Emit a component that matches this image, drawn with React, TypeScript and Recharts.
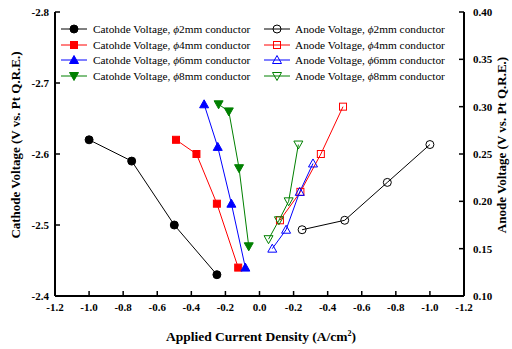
import React from 'react';
import { LineChart, Line, XAxis, YAxis } from 'recharts';

// current density (A/cm2) and voltage
const cathodeDensity2mm = [-1.0, -0.75, -0.5, -0.25];
const cathodeVoltage2mm = [-2.62, -2.59, -2.5, -2.43];
const cathodeDensity4mm = [-0.49, -0.37, -0.25, -0.125];
const cathodeVoltage4mm = [-2.62, -2.6, -2.53, -2.44];
const cathodeDensity6mm = [-0.325, -0.245, -0.165, -0.083];
const cathodeVoltage6mm = [-2.67, -2.61, -2.53, -2.44];
const cathodeDensity8mm = [-0.24, -0.18, -0.12, -0.063];
const cathodeVoltage8mm = [-2.67, -2.66, -2.58, -2.47];

// anode densities as labelled on the right half of the axis
const anodeDensity2mm = [-0.25, -0.5, -0.75, -1.0];
const anodeVoltage2mm = [0.17, 0.18, 0.22, 0.26];
const anodeDensity4mm = [-0.12, -0.24, -0.36, -0.49];
const anodeVoltage4mm = [0.18, 0.21, 0.25, 0.3];
const anodeDensity6mm = [-0.075, -0.156, -0.236, -0.314];
const anodeVoltage6mm = [0.15, 0.17, 0.21, 0.24];
const anodeDensity8mm = [-0.053, -0.114, -0.171, -0.228];
const anodeVoltage8mm = [0.16, 0.18, 0.2, 0.26];

const xTicks = [-1.2, -1.0, -0.8, -0.6, -0.4, -0.2, 0, 0.2, 0.4, 0.6, 0.8, 1.0, 1.2];
const cathodeTicks = [-2.8, -2.7, -2.6, -2.5, -2.4];
const anodeTicks = [0.1, 0.15, 0.2, 0.25, 0.3, 0.35, 0.4];

const conductors = ['2mm', '4mm', '6mm', '8mm'];
const colors = ['#000000', '#ff0000', '#0000ff', '#008000'];
const shapes = ['circle', 'square', 'up', 'down'];

const pairs = (xs: number[], ys: number[], mirror = false) =>
  xs.map((x, i) => ({ x: mirror ? -x : x, y: ys[i] }));

const cathodeSeries = [
  pairs(cathodeDensity2mm, cathodeVoltage2mm),
  pairs(cathodeDensity4mm, cathodeVoltage4mm),
  pairs(cathodeDensity6mm, cathodeVoltage6mm),
  pairs(cathodeDensity8mm, cathodeVoltage8mm),
];
const anodeSeries = [
  pairs(anodeDensity2mm, anodeVoltage2mm, true),
  pairs(anodeDensity4mm, anodeVoltage4mm, true),
  pairs(anodeDensity6mm, anodeVoltage6mm, true),
  pairs(anodeDensity8mm, anodeVoltage8mm, true),
];

const serif = '"Liberation Serif", "Times New Roman", serif';
const tickStyle = { fontFamily: serif, fontWeight: 700, fontSize: 11, fill: '#000' };

const Marker = ({ cx, cy, shape, color, filled }: any) => {
  if (cx == null || cy == null) return null;
  const fill = filled ? color : 'none';
  const common = { fill, stroke: color, strokeWidth: 1 };
  if (shape === 'circle') return <circle cx={cx} cy={cy} r={4} {...common} />;
  if (shape === 'square') return <rect x={cx - 3.5} y={cy - 3.5} width={7} height={7} {...common} />;
  if (shape === 'up')
    return <polygon points={`${cx},${cy - 4.5} ${cx + 4.5},${cy + 3.5} ${cx - 4.5},${cy + 3.5}`} {...common} />;
  return <polygon points={`${cx},${cy + 4.5} ${cx + 4.5},${cy - 3.5} ${cx - 4.5},${cy - 3.5}`} {...common} />;
};

const makeDot = (shape: string, color: string, filled: boolean) => (props: any) => (
  <Marker key={`${shape}-${filled}-${props.index}`} cx={props.cx} cy={props.cy} shape={shape} color={color} filled={filled} />
);

const fmtX = (v: number) => (Math.abs(v) < 1e-9 ? '0.0' : '-' + Math.abs(v).toFixed(1));

const LegendItem = ({ color, shape, filled, label }: any) => (
  <div style={{ display: 'flex', alignItems: 'center', height: 15.5 }}>
    <svg width={26} height={12} style={{ flex: 'none' }}>
      <line x1={0} y1={6} x2={26} y2={6} stroke={color} strokeWidth={1} />
      <Marker cx={13} cy={6} shape={shape} color={color} filled={filled} />
    </svg>
    <span style={{ marginLeft: 6, whiteSpace: 'nowrap' }}>
      {label}, <i>ϕ</i>
      {conductorLabel(label)}
    </span>
  </div>
);

const conductorLabel = (_: string) => null;

export default function App() {
  return (
    <div style={{ position: 'absolute', left: 0, top: 0, width: 512, height: 349, background: '#fff' }}>
      <LineChart width={512} height={349} margin={{ top: 12, right: 8, bottom: 0, left: 5 }}>
        <XAxis
          xAxisId="bottom"
          type="number"
          dataKey="x"
          domain={[-1.2, 1.2]}
          ticks={xTicks}
          tickFormatter={fmtX}
          height={53}
          tickSize={-5}
          tickMargin={12}
          interval={0}
          axisLine={{ stroke: '#000', strokeWidth: 2 }}
          tickLine={{ stroke: '#000', strokeWidth: 1.5 }}
          tick={tickStyle}
        />
        <XAxis
          xAxisId="top"
          orientation="top"
          type="number"
          dataKey="x"
          domain={[-1.2, 1.2]}
          ticks={[0]}
          tickFormatter={() => ''}
          height={0}
          tickSize={-5}
          axisLine={{ stroke: '#000', strokeWidth: 2 }}
          tickLine={{ stroke: '#000', strokeWidth: 1.5 }}
        />
        <YAxis
          yAxisId="left"
          type="number"
          domain={[-2.8, -2.4]}
          reversed
          ticks={cathodeTicks}
          tickFormatter={(v: number) => v.toFixed(1)}
          width={50}
          tickSize={-5}
          tickMargin={11}
          interval={0}
          axisLine={{ stroke: '#000', strokeWidth: 2 }}
          tickLine={{ stroke: '#000', strokeWidth: 1.5 }}
          tick={tickStyle}
        />
        <YAxis
          yAxisId="right"
          orientation="right"
          type="number"
          domain={[0.1, 0.4]}
          ticks={anodeTicks}
          tickFormatter={(v: number) => v.toFixed(2)}
          width={40}
          tickSize={-5}
          tickMargin={14}
          interval={0}
          axisLine={{ stroke: '#000', strokeWidth: 2 }}
          tickLine={{ stroke: '#000', strokeWidth: 1.5 }}
          tick={{ ...tickStyle, textAnchor: 'start' }}
        />
        {cathodeSeries.map((d, i) => (
          <Line
            key={`c${i}`}
            data={d}
            dataKey="y"
            xAxisId="bottom"
            yAxisId="left"
            type="linear"
            stroke={colors[i]}
            strokeWidth={1}
            dot={makeDot(shapes[i], colors[i], true)}
            activeDot={false}
            isAnimationActive={false}
          />
        ))}
        {anodeSeries.map((d, i) => (
          <Line
            key={`a${i}`}
            data={d}
            dataKey="y"
            xAxisId="bottom"
            yAxisId="right"
            type="linear"
            stroke={colors[i]}
            strokeWidth={1}
            dot={makeDot(shapes[i], colors[i], false)}
            activeDot={false}
            isAnimationActive={false}
          />
        ))}
      </LineChart>

      <div style={{ position: 'absolute', left: 61, top: 21.5, fontFamily: serif, fontSize: 11.3, color: '#000' }}>
        {conductors.map((c, i) => (
          <div key={c} style={{ display: 'flex', alignItems: 'center', height: 15.5 }}>
            <svg width={26} height={12} style={{ flex: 'none' }}>
              <line x1={0} y1={6} x2={26} y2={6} stroke={colors[i]} strokeWidth={1} />
              <Marker cx={13} cy={6} shape={shapes[i]} color={colors[i]} filled />
            </svg>
            <span style={{ marginLeft: 6, whiteSpace: 'nowrap' }}>
              Catohde Voltage, <i>ϕ</i>{c} conductor
            </span>
          </div>
        ))}
      </div>
      <div style={{ position: 'absolute', left: 264, top: 21.5, fontFamily: serif, fontSize: 11.3, color: '#000' }}>
        {conductors.map((c, i) => (
          <div key={c} style={{ display: 'flex', alignItems: 'center', height: 15.5 }}>
            <svg width={26} height={12} style={{ flex: 'none' }}>
              <line x1={0} y1={6} x2={26} y2={6} stroke={colors[i]} strokeWidth={1} />
              <Marker cx={13} cy={6} shape={shapes[i]} color={colors[i]} filled={false} />
            </svg>
            <span style={{ marginLeft: 5, whiteSpace: 'nowrap' }}>
              Anode Voltage, <i>ϕ</i>{c} conductor
            </span>
          </div>
        ))}
      </div>

      <div
        style={{
          position: 'absolute', left: 16, top: 145, transform: 'translate(-50%, -50%) rotate(-90deg)',
          fontFamily: serif, fontWeight: 700, fontSize: 13, whiteSpace: 'nowrap',
        }}
      >
        Cathode Voltage (V vs. Pt Q.R.E.)
      </div>
      <div
        style={{
          position: 'absolute', left: 502, top: 145, transform: 'translate(-50%, -50%) rotate(-90deg)',
          fontFamily: serif, fontWeight: 700, fontSize: 13, whiteSpace: 'nowrap',
        }}
      >
        Anode Voltage (V vs. Pt Q.R.E.)
      </div>
      <div
        style={{
          position: 'absolute', left: 261, top: 337, transform: 'translate(-50%, -50%)',
          fontFamily: serif, fontWeight: 700, fontSize: 13.5, whiteSpace: 'nowrap',
        }}
      >
        Applied Current Density (A/cm<sup style={{ fontSize: 8, verticalAlign: 'super', lineHeight: 0 }}>2</sup>)
      </div>
    </div>
  );
}
